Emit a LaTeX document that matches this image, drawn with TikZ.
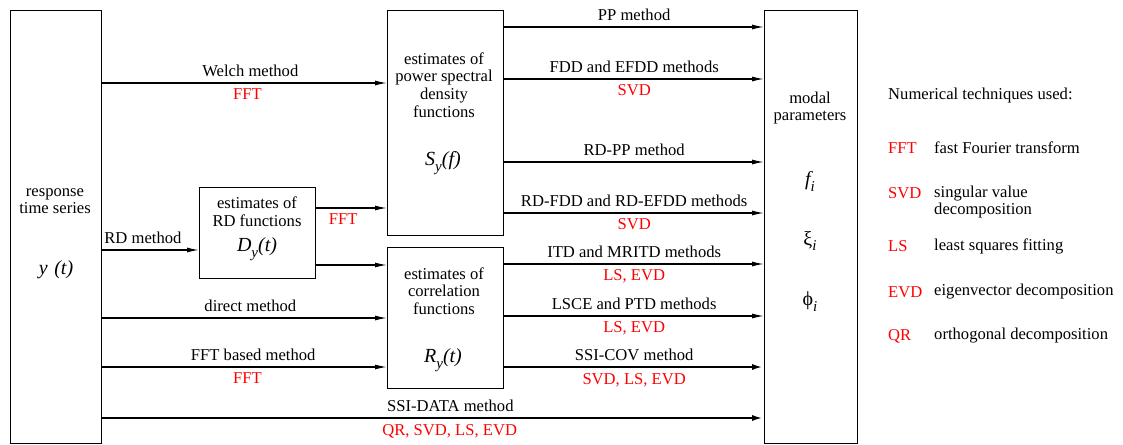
\documentclass[tikz,border=0pt]{standalone}
\usepackage{fontspec}
\setmainfont{Liberation Serif}
\usetikzlibrary{arrows.meta}
\definecolor{tred}{RGB}{255,0,0}
\newcommand\mysb[1]{\raisebox{-0.36em}{\fontsize{15}{15}\selectfont\itshape #1}}
\newcommand\mybg[1]{{\fontsize{20}{22}\selectfont\itshape #1}}
\begin{document}
\begin{tikzpicture}[x=1pt,y=-1pt,
  font=\fontsize{16.6}{17.6}\selectfont,
  box/.style={draw, line width=1.3pt, inner sep=0pt, anchor=north west},
  arr/.style={line width=1.3pt, -{Latex[length=12pt,width=5pt]}},
  thk/.style={line width=2.6pt, -{Latex[length=12pt,width=6pt]}},
  lab/.style={text height=11pt, text depth=3.5pt, inner sep=1pt},
  up/.style={lab, above=1pt},
  dn/.style={lab, below=4pt, text=tred},
  txt/.style={align=center, inner sep=0pt},
  leg/.style={anchor=west, inner sep=0pt, align=left}]
\useasboundingbox (0,0) rectangle (1123,444);
% boxes
\node[box, minimum width=91pt, minimum height=433pt] (ts) at (10,10) {};
\node[box, minimum width=116pt, minimum height=225pt] (psd) at (387,10) {};
\node[box, minimum width=116pt, minimum height=141pt] (cor) at (387,247) {};
\node[box, minimum width=116pt, minimum height=91pt] (rd) at (199,187) {};
\node[box, minimum width=93pt, minimum height=433pt] (mp) at (764,10) {};
% box texts
\node[txt] (tst) at (55,201) {response\\time series};
\node[txt] (tsy) at (56,270) {\mybg{y\,\,(t)}};
\node[txt] (psdt) at (444,85) {estimates of\\power spectral\\density\\functions};
\node[txt] (psds) at (443,163) {\mybg{S}\mysb{y}\mybg{(f)}};
\node[txt] (cort) at (444,291) {estimates of\\correlation\\functions};
\node[txt] (cors) at (443,360) {\mybg{R}\mysb{y}\mybg{(t)}};
\node[txt] (rdt) at (257,212) {estimates of\\RD functions};
\node[txt] (rds) at (257,249) {\mybg{D}\mysb{y}\mybg{(t)}};
\node[txt] (mpt) at (810,108) {modal\\parameters};
\node[txt] (mpf) at (810,181) {\mybg{f}\mysb{i}};
\node[txt] (mpx) at (810,241) {{\fontsize{20}{22}\selectfont ξ}\mysb{i}};
\node[txt] (mpp) at (810,302) {{\fontsize{20}{22}\selectfont ϕ}\mysb{i}};
% left arrows
\draw[arr] (ts.east |- 0,83) -- node[up, pos=0.52] {Welch method} node[dn, pos=0.51] {FFT} (psd.west |- 0,83);
\draw[arr] (ts.east |- 0,250) -- node[up, pos=0.42] {RD method} (rd.west |- 0,250);
\draw[arr] (rd.east |- 0,208) -- node[dn, pos=0.38] {FFT} (psd.west |- 0,208);
\draw[arr] (rd.east |- 0,265) -- (cor.west |- 0,265);
\draw[arr] (ts.east |- 0,318) -- node[up, pos=0.52] {direct method} (cor.west |- 0,318);
\draw[arr] (ts.east |- 0,367) -- node[up, pos=0.53] {FFT based method} node[dn, pos=0.51] {FFT} (cor.west |- 0,367);
\draw[thk] (ts.east |- 0,418) -- node[up, pos=0.526] {SSI-DATA method} node[dn, pos=0.525] {QR, SVD, LS, EVD} (mp.west |- 0,418);
% right arrows
\draw[arr] (psd.east |- 0,27) -- node[up] {PP method} (mp.west |- 0,27);
\draw[arr] (psd.east |- 0,79) -- node[up] {FDD and EFDD methods} node[dn] {SVD} (mp.west |- 0,79);
\draw[arr] (psd.east |- 0,162) -- node[up] {RD-PP method} (mp.west |- 0,162);
\draw[arr] (psd.east |- 0,213) -- node[up] {RD-FDD and RD-EFDD methods} node[dn] {SVD} (mp.west |- 0,213);
\draw[arr] (cor.east |- 0,264) -- node[up] {ITD and MRITD methods} node[dn] {LS, EVD} (mp.west |- 0,264);
\draw[arr] (cor.east |- 0,316) -- node[up] {LSCE and PTD methods} node[dn] {LS, EVD} (mp.west |- 0,316);
\draw[thk] (cor.east |- 0,367) -- node[up] {SSI-COV method} node[dn] {SVD, LS, EVD} (mp.west |- 0,367);
% legend
\node[leg] (lgh) at (888,96) {Numerical techniques used:};
\node[leg, text=tred] (l1a) at (888,148) {FFT};
\node[leg] (l1b) at (934,148) {fast Fourier transform};
\node[leg, text=tred] (l2a) at (888,193) {SVD};
\node[leg] (l2b) at (934,202) {singular value\\decomposition};
\node[leg, text=tred] (l3a) at (888,246) {LS};
\node[leg] (l3b) at (934,246) {least squares fitting};
\node[leg, text=tred] (l4a) at (888,292) {EVD};
\node[leg] (l4b) at (934,292) {eigenvector decomposition};
\node[leg, text=tred] (l5a) at (888,336) {QR};
\node[leg] (l5b) at (934,336) {orthogonal decomposition};
\end{tikzpicture}
\end{document}
